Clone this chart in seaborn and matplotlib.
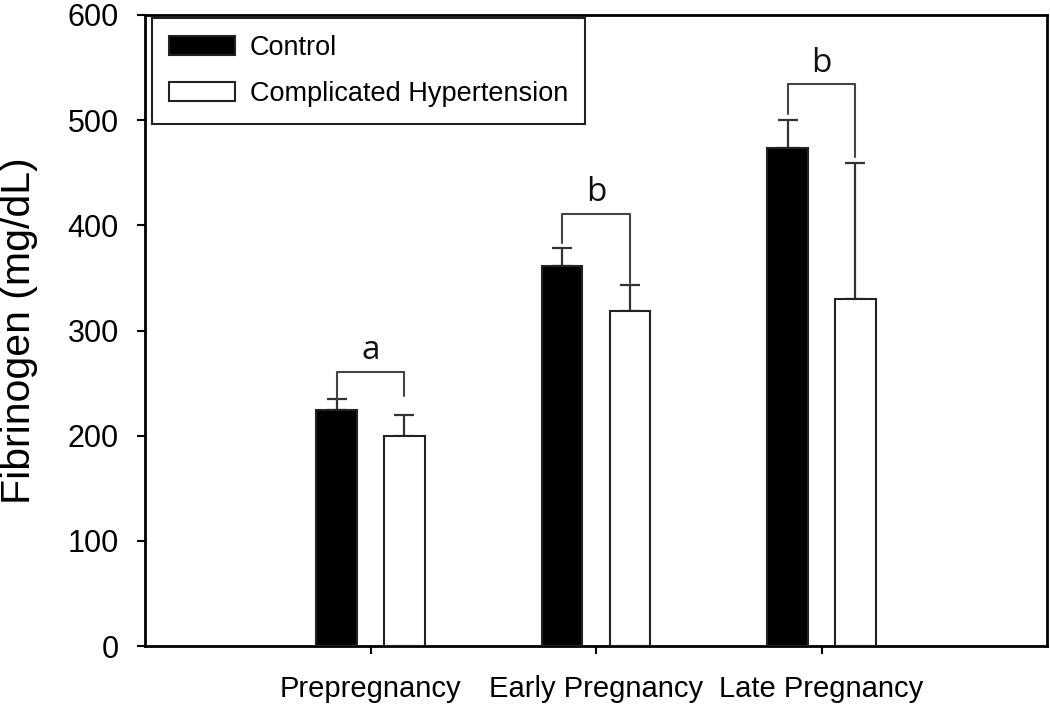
import matplotlib
matplotlib.use("Agg")
import matplotlib.pyplot as plt
import seaborn as sns
import pandas as pd
import numpy as np

categories = ["Prepregnancy", "Early Pregnancy", "Late Pregnancy"]
groups = ["Control", "Complicated Hypertension"]
control = [224, 361, 474]
control_err = [11, 17, 26]
hypertension = [200, 319, 330]
hypertension_err = [20, 24, 129]
bracket_top = [261, 411, 534]
bracket_left_bottom = [235, 383, 506]
bracket_right_bottom = [238, 345, 465]
letters = ["a", "b", "b"]
yticks = [0, 100, 200, 300, 400, 500, 600]

df = pd.DataFrame({
    "Stage": categories * 2,
    "Group": [groups[0]] * 3 + [groups[1]] * 3,
    "Fibrinogen": control + hypertension,
})

sns.set_style("ticks")
plt.rcParams["font.family"] = ["Liberation Sans", "DejaVu Sans"]
plt.rcParams["text.color"] = "black"
plt.rcParams["axes.labelcolor"] = "black"
plt.rcParams["xtick.color"] = "black"
plt.rcParams["ytick.color"] = "black"

fig = plt.figure(figsize=(10.5, 7.04), dpi=100)
ax = fig.add_axes([145 / 1050, 1 - 646 / 704, 902 / 1050, 631 / 704])

sns.barplot(data=df, x="Stage", y="Fibrinogen", hue="Group", order=categories,
            hue_order=groups, palette=["black", "white"], width=0.6, gap=0.4,
            edgecolor="#222222", linewidth=1.5, ax=ax, errorbar=None, zorder=3)

errs = [control_err, hypertension_err]
centers = []
for cont, err in zip(ax.containers, errs):
    xs = [b.get_x() + b.get_width() / 2 for b in cont]
    ys = [b.get_height() for b in cont]
    centers.append(xs)
    ax.errorbar(xs, ys, yerr=[np.zeros(len(err)), err], fmt="none",
                ecolor="#333333", elinewidth=1.6, capsize=7.5, capthick=1.6, zorder=2)

for i in range(len(categories)):
    xl, xr = centers[0][i], centers[1][i]
    ax.plot([xl, xl, xr, xr],
            [bracket_left_bottom[i], bracket_top[i], bracket_top[i], bracket_right_bottom[i]],
            color="#444444", lw=1.5, zorder=2)
    ax.annotate(letters[i], xy=((xl + xr) / 2, bracket_top[i]), xytext=(0, 9),
                textcoords="offset points", ha="center", va="baseline",
                fontsize=24, family=["Open Sans", "DejaVu Sans"], color="#111111")

ax.set_xlim(-1, 3)
ax.set_ylim(0, 600)
ax.set_yticks(yticks)
ax.set_xlabel("")
ax.set_ylabel("Fibrinogen (mg/dL)", fontsize=29.5, color="black")
ax.yaxis.set_label_coords(-0.1186, 0.5)

for s in ax.spines.values():
    s.set_visible(True)
    s.set_linewidth(2)
    s.set_color("black")

ax.tick_params(axis="y", direction="out", length=6, width=1.5, labelsize=22, pad=13,
               colors="black")
ax.tick_params(axis="x", direction="out", length=6, width=1.5, labelsize=21, pad=15,
               colors="black")

leg = ax.legend(loc="upper left", bbox_to_anchor=(0.0078, 0.995), borderaxespad=0,
                fontsize=19.5, fancybox=False, frameon=True, handlelength=2.45,
                handleheight=0.72, handletextpad=0.55, borderpad=0.62,
                labelspacing=0.74, title=None)
leg.get_frame().set_edgecolor("#222222")
leg.get_frame().set_linewidth(1.5)
leg.get_frame().set_alpha(1)
for t in leg.get_texts():
    t.set_color("black")

fig.savefig("out.png", dpi=100)
